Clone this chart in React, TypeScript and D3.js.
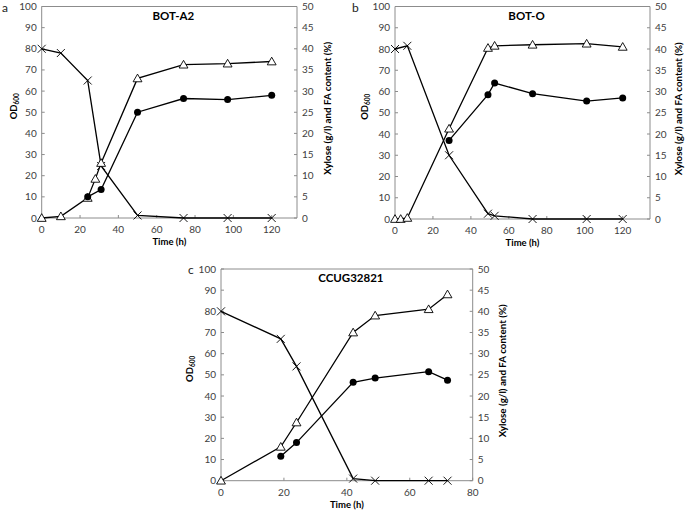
import React from "react";
import * as d3 from "d3";

// ---------- data (left axis: OD600, right axis: xylose g/l and FA %) ----------
const titleA = "BOT-A2";
const timeA_od = [0, 10, 24, 28, 31, 50, 74, 97, 120];
const odA = [0, 0.8, 9.5, 18.5, 26, 66, 72.5, 73, 74];
const timeA_fa = [24, 31, 50, 74, 97, 120];
const faA = [5, 6.75, 25, 28.25, 28, 29];
const timeA_xyl = [0, 10, 24, 31, 50, 74, 97, 120];
const xylA = [40, 39, 32.5, 12.3, 0.6, 0, 0, 0];

const titleB = "BOT-O";
const timeB_od = [0, 3, 6.5, 28.5, 49, 52.5, 72.5, 101, 120];
const odB = [0, 0, 0.5, 42.5, 80.5, 81.5, 82, 82.5, 81];
const timeB_fa = [28.5, 49, 52.5, 72.5, 101, 120];
const faB = [18.5, 29.25, 32, 29.5, 27.75, 28.5];
const timeB_xyl = [0, 6.5, 28.5, 49, 52.5, 72.5, 101, 120];
const xylB = [40, 40.75, 15, 1.25, 0.75, 0, 0, 0];

const titleC = "CCUG32821";
const timeC_od = [0, 19, 24, 42, 49, 66, 72];
const odC = [0, 16, 27.5, 70, 78, 81, 88];
const timeC_fa = [19, 24, 42, 49, 66, 72];
const faC = [5.75, 9, 23.25, 24.25, 25.75, 23.75];
const timeC_xyl = [0, 19, 24, 42, 49, 66, 72];
const xylC = [40, 33.5, 27, 0.5, 0, 0, 0];

const leftTicks = [0, 10, 20, 30, 40, 50, 60, 70, 80, 90, 100];
const rightTicks = [0, 5, 10, 15, 20, 25, 30, 35, 40, 45, 50];
const xTicksAB = [0, 20, 40, 60, 80, 100, 120];
const xTicksC = [0, 20, 40, 60, 80];

const xLabel = "Time (h)";
const rightLabel = "Xylose (g/l) and FA content (%)";

const FONT = "Lato, 'Open Sans', 'DejaVu Sans', sans-serif";
const AXIS = "#8c8c8c";
const TICKTXT = "#404040";

type PanelProps = {
  letter: string;
  title: string;
  xTicks: number[];
  xMax: number;
  left: number;
  xMaxPx: number;
  right: number;
  top: number;
  bottom: number;
  tOd: number[];
  od: number[];
  tFa: number[];
  fa: number[];
  tXyl: number[];
  xyl: number[];
  letterPos: [number, number];
  odLabelX: number;
  rightLabelX: number;
};

function Panel(p: PanelProps) {
  const x = d3.scaleLinear().domain([0, p.xMax]).range([p.left, p.xMaxPx]);
  const yL = d3.scaleLinear().domain([0, 100]).range([p.bottom, p.top]);
  const yR = d3.scaleLinear().domain([0, 50]).range([p.bottom, p.top]);

  const odPts: [number, number][] = p.tOd.map((t, i) => [x(t), yL(p.od[i])]);
  const faPts: [number, number][] = p.tFa.map((t, i) => [x(t), yR(p.fa[i])]);
  const xylPts: [number, number][] = p.tXyl.map((t, i) => [x(t), yR(p.xyl[i])]);
  const line = d3.line();
  const tri = d3.symbol().type(d3.symbolTriangle).size(34)();
  const midY = (p.top + p.bottom) / 2;
  const cx = (p.left + p.right) / 2;

  return (
    <g>
      {/* frame */}
      <line x1={p.left} x2={p.right} y1={p.top} y2={p.top} stroke={AXIS} strokeWidth={1} />
      <line x1={p.right} x2={p.right} y1={p.top} y2={p.bottom} stroke={AXIS} strokeWidth={1} />
      <line x1={p.left} x2={p.left} y1={p.top} y2={p.bottom} stroke={AXIS} strokeWidth={1} />
      <line x1={p.left} x2={p.right} y1={p.bottom} y2={p.bottom} stroke={AXIS} strokeWidth={1} />
      {/* left ticks */}
      {leftTicks.map((t) => (
        <g key={"l" + t}>
          <line x1={p.left} x2={p.left + 3} y1={yL(t)} y2={yL(t)} stroke={AXIS} />
          <text x={p.left - 5} y={yL(t)} dy="0.35em" textAnchor="end" fontSize={10} fill={TICKTXT} fontFamily={FONT}>{t}</text>
        </g>
      ))}
      {rightTicks.map((t) => (
        <g key={"r" + t}>
          <line x1={p.right - 3} x2={p.right} y1={yR(t)} y2={yR(t)} stroke={AXIS} />
          <text x={p.right + 5} y={yR(t)} dy="0.35em" textAnchor="start" fontSize={10} fill={TICKTXT} fontFamily={FONT}>{t}</text>
        </g>
      ))}
      {p.xTicks.map((t) => (
        <g key={"x" + t}>
          <line x1={x(t)} x2={x(t)} y1={p.bottom} y2={p.bottom - 3} stroke={AXIS} />
          <text x={x(t)} y={p.bottom + 15} textAnchor="middle" fontSize={10} fill={TICKTXT} fontFamily={FONT}>{t}</text>
        </g>
      ))}
      {/* labels */}
      <text x={cx} y={p.bottom + 27} textAnchor="middle" fontSize={9.5} fontWeight="bold" fontFamily={FONT} fill="#000">{xLabel}</text>
      <text transform={`translate(${p.odLabelX},${midY - 6}) rotate(-90)`} textAnchor="middle" dy="0.35em" fontSize={9.5} fontWeight="bold" fontFamily={FONT} fill="#000">
        OD<tspan fontSize={6.5} dy="0.25em">600</tspan>
      </text>
      <text transform={`translate(${p.rightLabelX},${midY - 4}) rotate(-90)`} textAnchor="middle" dy="0.35em" fontSize={9.8} fontWeight="bold" fontFamily={FONT} fill="#000">{rightLabel}</text>
      <text x={cx + 4} y={p.top + 13} textAnchor="middle" fontSize={11.5} fontWeight="bold" fontFamily={FONT} fill="#000">{p.title}</text>
      <text x={p.letterPos[0]} y={p.letterPos[1]} fontSize={12} fontFamily={FONT} fill="#222">{p.letter}</text>
      {/* series lines */}
      <path d={line(xylPts) || ""} fill="none" stroke="#000" strokeWidth={1.3} />
      <path d={line(odPts) || ""} fill="none" stroke="#000" strokeWidth={1.3} />
      <path d={line(faPts) || ""} fill="none" stroke="#000" strokeWidth={1.3} />
      {/* markers */}
      {xylPts.map(([px, py], i) => (
        <path key={"c" + i} d={`M${px - 4},${py - 4}L${px + 4},${py + 4}M${px - 4},${py + 4}L${px + 4},${py - 4}`} stroke="#000" strokeWidth={0.9} fill="none" />
      ))}
      {odPts.map(([px, py], i) => (
        <path key={"t" + i} d={tri || ""} transform={`translate(${px},${py + 0.8})`} fill="#fff" stroke="#000" strokeWidth={0.9} />
      ))}
      {faPts.map(([px, py], i) => (
        <circle key={"f" + i} cx={px} cy={py} r={3.5} fill="#000" />
      ))}
    </g>
  );
}

export default function App() {
  return (
    <svg width={685} height={511} style={{ position: "absolute", left: 0, top: 0, background: "#fff" }}>
      <rect width={685} height={511} fill="#fff" />
      <Panel letter="a" title={titleA} xTicks={xTicksAB} xMax={120} left={41.7} xMaxPx={271.7} right={297} top={6.5} bottom={218}
        tOd={timeA_od} od={odA} tFa={timeA_fa} fa={faA} tXyl={timeA_xyl} xyl={xylA} letterPos={[2, 12]} odLabelX={14} rightLabelX={328} />
      <Panel letter="b" title={titleB} xTicks={xTicksAB} xMax={120} left={395} xMaxPx={622.7} right={650} top={6.5} bottom={219}
        tOd={timeB_od} od={odB} tFa={timeB_fa} fa={faB} tXyl={timeB_xyl} xyl={xylB} letterPos={[352, 12]} odLabelX={365} rightLabelX={679} />
      <Panel letter="c" title={titleC} xTicks={xTicksC} xMax={80} left={221} xMaxPx={472.7} right={472.7} top={269} bottom={480.7}
        tOd={timeC_od} od={odC} tFa={timeC_fa} fa={faC} tXyl={timeC_xyl} xyl={xylC} letterPos={[188, 274]} odLabelX={190} rightLabelX={503} />
    </svg>
  );
}
